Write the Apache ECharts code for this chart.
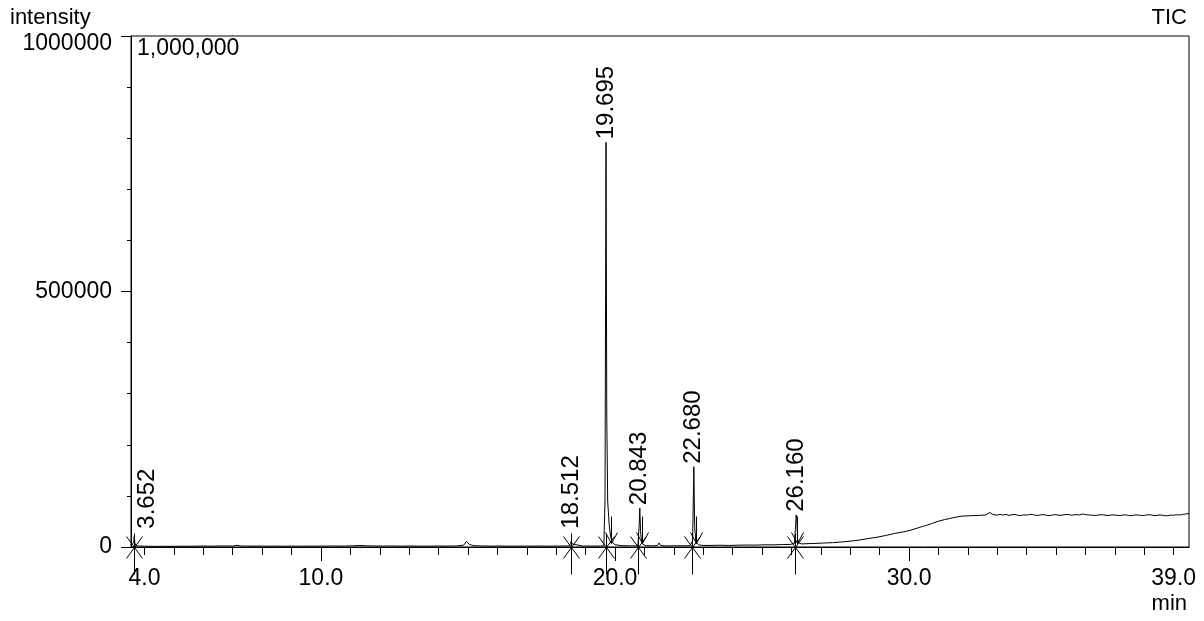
<!DOCTYPE html>
<html>
<head>
<meta charset="utf-8">
<script src="https://cdn.jsdelivr.net/npm/echarts@6/dist/echarts.min.js"></script>
<style>html,body{margin:0;padding:0;background:#fff;}#chart{width:1204px;height:621px;}</style>
</head>
<body>
<div id="chart"></div>
<script>
// ---- data ----
const times = [3.54,3.60,3.63,3.652,3.67,3.70,3.80,4.0,4.3,4.6,5.0,5.3,5.6,6.0,6.3,6.6,7.0,7.15,7.25,7.5,7.8,8.1,8.4,8.7,9.0,9.3,9.6,10.0,10.4,10.8,11.1,11.3,11.5,11.8,12.1,12.4,12.7,13.0,13.3,13.6,14.0,14.3,14.6,14.85,14.95,15.05,15.2,15.5,15.8,16.1,16.4,16.7,17.0,17.3,17.6,17.9,18.2,18.44,18.49,18.512,18.54,18.6,18.9,19.2,19.5,19.62,19.66,19.695,19.72,19.75,19.80,19.85,19.92,20.0,20.2,20.5,20.7,20.78,20.82,20.843,20.87,20.9,20.95,21.05,21.3,21.45,21.5,21.55,21.7,22.0,22.3,22.55,22.64,22.68,22.71,22.75,22.85,23.0,23.3,23.6,23.9,24.2,24.5,24.8,25.1,25.4,25.7,25.95,26.1,26.14,26.16,26.18,26.21,26.26,26.35,26.5,26.8,27.1,27.4,27.7,28.0,28.3,28.6,28.9,29.2,29.5,29.8,30.0,30.2,30.45,30.5,30.6,30.8,31.0,31.2,31.4,31.6,31.8,32.0,32.2,32.4,32.6,32.75,32.85,33.0,33.1,33.2,33.3,33.4,33.5,33.6,33.7,33.8,33.9,34.0,34.1,34.2,34.3,34.4,34.5,34.6,34.7,34.8,34.9,35.0,35.1,35.2,35.3,35.4,35.5,35.6,35.7,35.8,35.9,36.0,36.1,36.2,36.3,36.4,36.5,36.6,36.7,36.8,36.9,37.0,37.1,37.2,37.3,37.4,37.5,37.6,37.7,37.8,37.9,38.0,38.1,38.2,38.3,38.4,38.5,38.6,38.7,38.8,38.9,39.0,39.1,39.2,39.3,39.4,39.52];
const intensity = [1500,3000,9000,22000,8000,3000,1800,1500,1200,1400,1300,1600,1500,1900,1700,2100,1800,3500,2000,1700,1900,1600,1800,1500,1700,1600,1800,1700,1900,1800,2300,3000,2400,2000,1800,2000,1700,1900,1800,1700,1900,1800,2000,3500,11000,5000,2500,2000,1800,1900,1700,1800,1700,1900,1800,1700,1900,2000,7000,12000,6000,2200,1800,1900,1800,2500,90000,792000,260000,90000,45000,20000,9000,4500,2800,2200,2300,3000,40000,76000,30000,12000,5000,2600,2300,3000,8000,3000,2200,2300,2400,2500,12000,157000,40000,9000,4000,3000,3200,3400,3000,3600,3800,3700,4300,4200,4800,5000,7000,40000,63000,58000,15000,8000,6000,6500,7000,7800,8500,9800,11500,13500,16500,19000,22500,26500,29500,32000,35500,40000,43000,42500,46500,50500,53500,56000,58500,60500,61000,61500,62000,62500,67500,63500,62500,63800,62400,63900,61700,63200,63800,62100,61400,62900,62500,63600,63500,62000,61900,63300,63100,61600,61500,63000,63200,62000,62200,63400,63900,62400,62600,63500,62700,64500,63500,62600,62500,61800,62100,63200,62900,61900,61700,62900,62600,61800,61600,62800,62600,61300,61600,62700,62600,61500,62000,62800,63000,61900,61400,62600,62400,61200,61300,62500,62200,63100,62700,63600,64500,65500];

const peakRT = [3.652, 18.512, 19.695, 20.843, 22.680, 26.160];
const peakLabels = ['3.652', '18.512', '19.695', '20.843', '22.680', '26.160'];
const peakApex = [22000, 12000, 792000, 76000, 157000, 63000];
const peakStart = [3.652, 18.512, 19.695, 20.78, 22.62, 26.12];
const peakEnd = [19.85, 20.93, 22.76, 26.20];

const xMin = 3.54, xMax = 39.52;
const xTickValues = [4,5,6,7,8,9,10,11,12,13,14,15,16,17,18,19,20,21,22,23,24,25,26,27,28,29,30,31,32,33,34,35,36,37,38,39];
const xLabelValues = [4, 10, 20, 30, 39];
const xMajorTickValues = [10, 20, 30];
const yMax = 1000000;

// ---- chart ----
const FONT = "'Liberation Sans', Arial, sans-serif";
const GRID_LEFT = 131;
const chart = echarts.init(document.getElementById('chart'), null, {renderer: 'canvas'});
const series = times.map((t, i) => [t, intensity[i]]);
const minLabelVal = 30000;

const option = {
  animation: false,
  backgroundColor: '#fff',
  textStyle: {fontFamily: FONT},
  grid: {left: GRID_LEFT, right: 15, top: 36, bottom: 74, show: true, borderColor: '#000', borderWidth: 1, backgroundColor: 'transparent'},
  xAxis: [{
    type: 'value', min: xMin, max: xMax, position: 'bottom',
    axisLine: {show: true, onZero: false, lineStyle: {color: '#000', width: 1}},
    axisTick: {show: true, length: 8, customValues: xTickValues, lineStyle: {color: '#000'}},
    axisLabel: {show: true, customValues: xLabelValues, margin: 20, fontSize: 23, color: '#000', fontFamily: FONT,
      formatter: v => Number(v).toFixed(1)},
    splitLine: {show: false}
  }, {
    type: 'value', min: xMin, max: xMax, position: 'bottom',
    axisLine: {show: false, onZero: false},
    axisTick: {show: true, length: 14, customValues: xMajorTickValues, lineStyle: {color: '#000'}},
    axisLabel: {show: false},
    splitLine: {show: false}
  }],
  yAxis: {
    type: 'value', min: 0, max: yMax, interval: 500000,
    axisLine: {show: true, lineStyle: {color: '#000', width: 1}},
    axisTick: {show: true, length: 10, lineStyle: {color: '#000'}},
    minorTick: {show: true, splitNumber: 5, length: 4, lineStyle: {color: '#000'}},
    axisLabel: {fontSize: 23, color: '#000', margin: 19, fontFamily: FONT,
      formatter: v => v === yMax ? '{t|' + v + '}' : String(v),
      rich: {t: {fontSize: 23, fontFamily: FONT, color: '#000', padding: [16, 0, 0, 0]}}},
    splitLine: {show: false}
  },
  graphic: [
    {type: 'text', left: 10, top: 7, style: {text: 'intensity', font: '22px ' + FONT, fill: '#000'}},
    {type: 'text', left: 137, top: 37, style: {text: '1,000,000', font: '23px ' + FONT, fill: '#000'}},
    {type: 'text', right: 17, top: 7, style: {text: 'TIC', font: '22px ' + FONT, fill: '#000'}},
    {type: 'text', right: 17, top: 593, style: {text: 'min', font: '22px ' + FONT, fill: '#000'}}
  ],
  series: [{
    type: 'line', data: series, showSymbol: false, symbol: 'none',
    lineStyle: {color: '#000', width: 1}, z: 3, silent: true
  }, {
    type: 'scatter', symbolSize: 0, silent: true, z: 5,
    itemStyle: {opacity: 1, color: '#000'},
    data: peakRT.map((t, i) => [t, Math.max(peakApex[i], minLabelVal), peakLabels[i]]),
    label: {show: true, formatter: p => p.value[2], rotate: 90, position: [0, -3],
      align: 'left', verticalAlign: 'middle', fontSize: 24, color: '#000', fontFamily: FONT,
      textBorderWidth: 0, opacity: 1},
    labelLayout: params => {
      const r = params.labelRect;
      if (r && r.x < GRID_LEFT + 3) return {dy: GRID_LEFT + 4 - r.x};
      return {};
    }
  }, {
    type: 'custom', clip: false, silent: true, z: 4,
    data: peakStart.map(t => [t, 0]),
    renderItem: (params, api) => {
      const p = api.coord([api.value(0), api.value(1)]);
      const x = Math.round(p[0]) + 0.5, y = Math.round(p[1]) + 0.5;
      const st = {stroke: '#000', lineWidth: 1};
      return {type: 'group', children: [
        {type: 'line', shape: {x1: x, y1: y - 14, x2: x, y2: y + 27}, style: st},
        {type: 'line', shape: {x1: x - 8, y1: y - 11, x2: x + 8, y2: y + 11}, style: st},
        {type: 'line', shape: {x1: x + 8, y1: y - 11, x2: x - 8, y2: y + 11}, style: st}
      ]};
    }
  }, {
    type: 'custom', clip: false, silent: true, z: 4,
    data: peakEnd.map(t => [t, 0]),
    renderItem: (params, api) => {
      const p = api.coord([api.value(0), api.value(1)]);
      const x = Math.round(p[0]) + 0.5, y = Math.round(p[1]) - 3.5;
      const st = {stroke: '#000', lineWidth: 1};
      return {type: 'group', children: [
        {type: 'line', shape: {x1: x, y1: y - 27, x2: x, y2: y}, style: st},
        {type: 'line', shape: {x1: x - 6, y1: y - 11, x2: x, y2: y}, style: st},
        {type: 'line', shape: {x1: x + 6, y1: y - 11, x2: x, y2: y}, style: st}
      ]};
    }
  }]
};
chart.setOption(option);
</script>
</body>
</html>
